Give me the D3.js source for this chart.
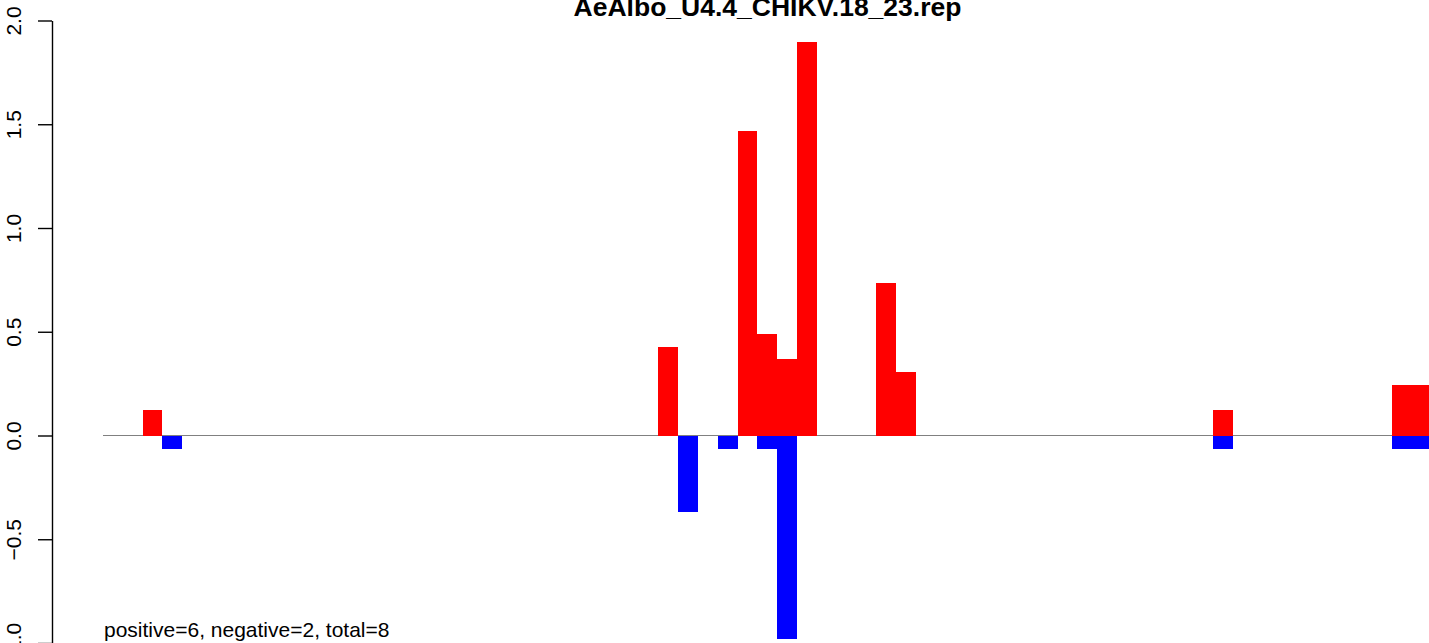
<!DOCTYPE html>
<html>
<head>
<meta charset="utf-8">
<script src="https://cdn.jsdelivr.net/npm/d3@7"></script>
<style>
  html, body { margin: 0; padding: 0; background: #fff; }
  svg { display: block; }
  text { font-family: "Liberation Sans", Arial, sans-serif; }
</style>
</head>
<body>
<svg id="chart" width="1429" height="643"></svg>
<script>
// ---- data ----
const title = "AeAlbo_U4.4_CHIKV.18_23.rep";
const footnote = "positive=6, negative=2, total=8";
const slots = [2, 3, 28, 29, 31, 32, 33, 34, 35, 39, 40, 56, 65, 66];
const positiveValues = [0.123, 0, 0.427, 0, 0, 1.467, 0.489, 0.369, 1.896, 0.735, 0.306, 0.123, 0.243, 0.243];
const negativeValues = [0, -0.065, 0, -0.368, -0.064, 0, -0.064, -0.98, 0, 0, 0, -0.064, -0.064, -0.064];
const yTicks = [-1.0, -0.5, 0.0, 0.5, 1.0, 1.5, 2.0];

// ---- scales ----
const svg = d3.select("#chart");
const x = d3.scaleLinear().domain([0, 67]).range([103, 103 + 67 * 19.83]);
const y = d3.scaleLinear().domain([-1, 2]).range([643, 20.5]);

// zero line
svg.append("line")
  .attr("x1", x(0)).attr("x2", 1429)
  .attr("y1", y(0)).attr("y2", y(0))
  .attr("stroke", "#808080").attr("stroke-width", 1);

const rows = slots.map((s, i) => ({ s, p: positiveValues[i], n: negativeValues[i] }));

// positive bars
svg.append("g").selectAll("rect").data(rows.filter(d => d.p > 0)).join("rect")
  .attr("x", d => x(d.s)).attr("width", d => x(d.s + 1) - x(d.s))
  .attr("y", d => y(d.p)).attr("height", d => y(0) - y(d.p))
  .attr("fill", "#ff0000").attr("shape-rendering", "crispEdges");

// negative bars
svg.append("g").selectAll("rect").data(rows.filter(d => d.n < 0)).join("rect")
  .attr("x", d => x(d.s)).attr("width", d => x(d.s + 1) - x(d.s))
  .attr("y", y(0)).attr("height", d => y(d.n) - y(0))
  .attr("fill", "#0000ff").attr("shape-rendering", "crispEdges");

// y axis
const yAxis = d3.axisLeft(y).tickValues(yTicks).tickFormat(d3.format(".1f")).tickSize(14).tickSizeOuter(0);
const gy = svg.append("g").attr("transform", "translate(52,0)").call(yAxis);
gy.select(".domain").attr("stroke", "#000").attr("stroke-width", 1.4);
gy.selectAll(".tick line").attr("stroke", "#000").attr("stroke-width", 1.4);
gy.selectAll(".tick text")
  .attr("x", null).attr("dy", null)
  .attr("transform", "translate(-31,0) rotate(-90)")
  .attr("text-anchor", "middle")
  .attr("font-size", "21px")
  .attr("font-family", "Liberation Sans, Arial, sans-serif")
  .attr("fill", "#000")
  .text(d => d3.format(".1f")(d).replace("-", "\u2212"));

// title
svg.append("text")
  .attr("x", 767.5).attr("y", 16)
  .attr("text-anchor", "middle")
  .attr("font-size", "26.5px").attr("font-weight", "bold")
  .text(title);

// footnote
svg.append("text")
  .attr("x", 104).attr("y", 637)
  .attr("font-size", "21px")
  .text(footnote);
</script>
</body>
</html>
